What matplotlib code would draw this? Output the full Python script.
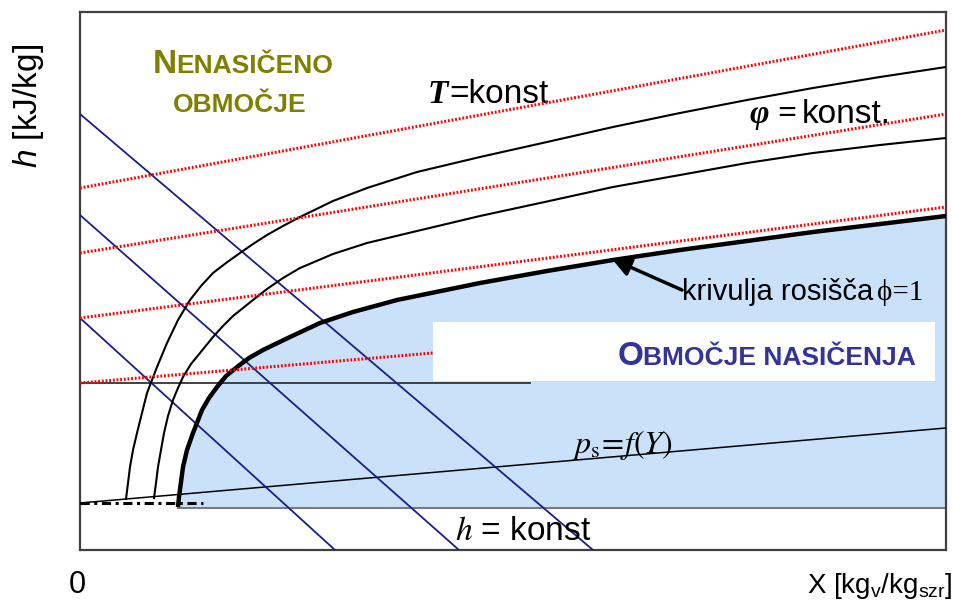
import matplotlib
matplotlib.use("Agg")
import matplotlib.pyplot as plt
from matplotlib.patches import Rectangle

plt.rcParams['font.family'] = ['Liberation Sans', 'DejaVu Sans']
plt.rcParams['mathtext.fontset'] = 'custom'
plt.rcParams['mathtext.rm'] = 'Liberation Sans'
plt.rcParams['mathtext.it'] = 'Liberation Sans:italic'

# krivulja rosišča (phi = 1), X / h v poljubnih enotah
dew_x = [98, 99, 101, 103, 107, 113, 122, 129, 137, 146, 157, 169, 183, 210, 240, 273, 317,
         400, 467, 533, 600, 667, 733, 800, 866]
dew_h = [43, 53, 68, 83, 100, 117, 140, 152, 163, 174, 183, 192, 200, 213, 227, 238, 250,
         267, 279, 290, 300, 309, 318, 326, 334]

# phi = konst krivulje
phi1_x = [46, 48, 50, 53, 57, 62, 67, 72, 77, 87, 98, 110, 121, 133, 146, 160, 173, 187, 203,
          220, 253, 287, 337, 400, 467, 533, 600, 667, 733, 800, 866]
phi1_h = [51, 67, 83, 100, 117, 137, 157, 170, 183, 207, 230, 250, 264, 277, 287, 297, 306, 315,
          324, 333, 349, 362, 378, 393, 408, 423, 437, 450, 462, 473, 483]
phi2_x = [74, 76, 78, 81, 84, 88, 93, 98, 103, 111, 120, 133, 143, 153, 163, 173, 187, 203, 220,
          253, 287, 337, 400, 467, 533, 600, 667, 733, 800, 866]
phi2_h = [52, 67, 83, 100, 117, 134, 150, 162, 173, 186, 197, 213, 224, 234, 242, 250, 261, 272,
          282, 296, 307, 319, 334, 348.5, 363, 375, 387, 397, 405, 412]

# T = konst (rdeče pikčaste)
t_lines = [([0, 866], [362, 520]),
           ([0, 866], [297, 436]),
           ([0, 866], [232, 343]),
           ([0, 353], [167, 197])]

# h = konst (modre)
h_lines = [([0, 513], [436, 0]),
           ([0, 379], [335, 0]),
           ([0, 255], [232, 0])]

ps_x = [0, 866]
ps_h = [47, 122]
base_h = 42
horiz_h = 167

fig = plt.figure(figsize=(9.54, 6.02), dpi=100)
ax = fig.add_axes([80 / 954, 52 / 602, 866 / 954, 538 / 602])
ax.set_xlim(0, 866)
ax.set_ylim(0, 538)
ax.set_xticks([])
ax.set_yticks([])
for s in ax.spines.values():
    s.set_color('#404040')
    s.set_linewidth(1.6)

# območje nasičenja
ax.fill_between(dew_x, base_h, dew_h, color='#c9e2fa', lw=0, zorder=1)
ax.plot([dew_x[0], 866], [base_h, base_h], color='#7a7a7a', lw=1.5, zorder=1.5)
ax.add_patch(Rectangle((353, 169), 502, 59, facecolor='white', edgecolor='none', zorder=2))

ax.plot([0, 450], [horiz_h, horiz_h], color='#333333', lw=1.3, zorder=3)
ax.plot(ps_x, ps_h, color='black', lw=1.1, zorder=3)
ax.plot([0, 123], [ps_h[0], ps_h[0]], color='black', lw=2.2, zorder=3,
        linestyle=(0, (3, 1.5, 1, 1.5)))

for xs, hs in h_lines:
    ax.plot(xs, hs, color='#1c1c8a', lw=1.3, zorder=3)

ax.plot(phi1_x, phi1_h, color='black', lw=1.5, zorder=3.5, solid_joinstyle='round')
ax.plot(phi2_x, phi2_h, color='black', lw=1.5, zorder=3.5, solid_joinstyle='round')
ax.plot(dew_x, dew_h, color='black', lw=3.2, zorder=3.5, solid_capstyle='butt',
        solid_joinstyle='round')

for xs, hs in t_lines:
    ax.plot(xs, hs, color='red', lw=2.2, zorder=4, linestyle=(0, (0.6, 0.6)))

# napisi
olive = '#7f7f00'
ax.text(73, 477, 'N', color=olive, fontsize=24, fontweight='bold', va='baseline')
ax.text(96, 477, 'ENASIČENO', color=olive, fontsize=19, fontweight='bold', va='baseline')
ax.text(93, 438, 'OBMOČJE', color=olive, fontsize=19, fontweight='bold', va='baseline')

navy = '#333399'
ax.text(538, 185, 'O', color=navy, fontsize=24, fontweight='bold', va='baseline', zorder=6)
ax.text(563, 185, 'BMOČJE NASIČENJA', color=navy, fontsize=19, fontweight='bold',
        va='baseline', zorder=6)

ax.text(348, 447, 'T', family=['Liberation Serif', 'DejaVu Serif'], fontsize=24,
        fontweight='bold', style='italic', va='baseline')
ax.text(369, 447, '=konst', fontsize=24, va='baseline')

ax.text(670, 427, 'φ =', family=['Liberation Serif', 'DejaVu Serif'], fontsize=24,
        fontweight='bold', style='italic', va='baseline', zorder=6)
ax.text(722, 427, 'konst.', fontsize=24, va='baseline', zorder=6)

ax.text(602, 250, 'krivulja rosišča', fontsize=21, va='baseline', zorder=6)
ax.text(797, 250, 'ϕ=1', family=['Liberation Serif', 'DejaVu Serif'], fontsize=21,
        va='baseline', zorder=6)
ax.annotate('', xy=(532, 291), xytext=(602, 260), zorder=6,
            arrowprops=dict(arrowstyle='-|>', color='black', lw=2.5,
                            mutation_scale=28, shrinkA=0, shrinkB=0))

ax.text(492, 97, r'$p_\mathrm{s}\!=\!f(Y)$', math_fontfamily='stix', fontsize=23,
        va='baseline', zorder=6)
ax.text(375, 10, r'$h$ = konst', math_fontfamily='stix', fontsize=24,
        va='baseline', zorder=6)

ax.text(-52, 444, r'$h$ [kJ/kg]', rotation=90, fontsize=24, ha='center', va='center',
        clip_on=False)
ax.text(-3, -35, '0', fontsize=22, ha='center', va='center', clip_on=False)
ax.text(873, -43, r'X [kg$_\mathrm{v}$/kg$_\mathrm{szr}$]', fontsize=20, ha='right',
        va='baseline', clip_on=False)

fig.savefig('out.png', dpi=100)
